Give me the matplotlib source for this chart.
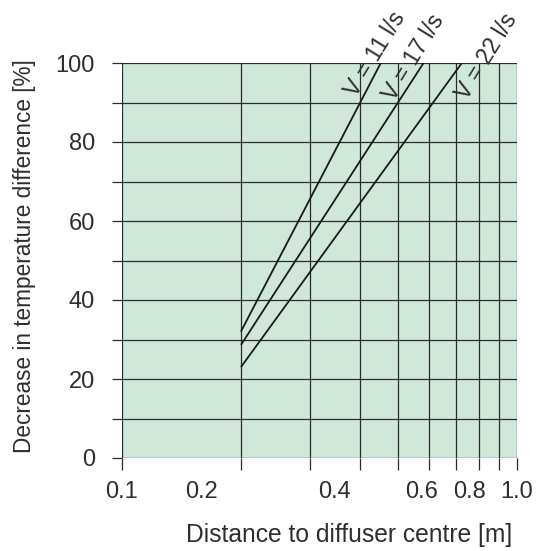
import matplotlib
matplotlib.use("Agg")
import matplotlib.pyplot as plt
import numpy as np

# Throw lines: distance from diffuser centre [m] vs. decrease in temperature difference [%]
flow_labels = ["V = 11 l/s", "V = 17 l/s", "V = 22 l/s"]
line_x = [[0.2, 0.452], [0.2, 0.58], [0.2, 0.725]]
line_y = [[32.0, 100.0], [28.6, 100.0], [23.0, 100.0]]

# Axis ticks and labels
x_grid = [0.1, 0.2, 0.3, 0.4, 0.5, 0.6, 0.7, 0.8, 0.9, 1.0]
x_tick_labels = ["0.1", "0.2", "0.4", "0.6", "0.8", "1.0"]
x_tick_label_pos = [0.1, 0.1594, 0.346, 0.5746, 0.760, 1.0]
y_major = [0, 20, 40, 60, 80, 100]
y_grid = [0, 10, 20, 30, 40, 50, 60, 70, 80, 90, 100]

# Anchor points for the rotated flow labels (data coords)
label_anchor = [(0.3913, 91.1), (0.4884, 90.1), (0.747, 90.4)]

plt.rcParams["font.family"] = ["Liberation Sans", "DejaVu Sans"]
text_color = "#2e2e2e"
grid_color = "#2b2b2b"

fig = plt.figure(figsize=(5.41, 5.51), dpi=100)
ax = fig.add_axes([122 / 541, 1 - 458 / 551, 395 / 541, 395 / 551])
ax.set_facecolor("#cfe8da")
ax.set_xscale("log")
ax.set_xlim(0.1, 1.0)
ax.set_ylim(0, 100)

for xv in x_grid:
    ax.axvline(xv, color=grid_color, lw=0.9, zorder=1)
for yv in y_grid:
    ax.axhline(yv, color=grid_color, lw=0.9, zorder=1)

for xs, ys in zip(line_x, line_y):
    ax.plot(xs, ys, color="#1a1a1a", lw=1.3, zorder=3, solid_capstyle="butt")

for (lx, ly), txt in zip(label_anchor, flow_labels):
    ax.text(lx, ly, txt, rotation=58.5, rotation_mode="anchor", ha="left",
            va="baseline", fontsize=16.7, color=text_color, clip_on=False, zorder=4)

for s in ax.spines.values():
    s.set_visible(False)

# x ticks: marks on every grid line, labels placed separately
ax.set_xticks(x_grid)
ax.set_xticks([], minor=True)
ax.set_xticklabels([])
ax.tick_params(axis="x", which="major", direction="out", length=8.5, width=0.9,
               color=grid_color)
trans = ax.get_xaxis_transform()
for xp, lab in zip(x_tick_label_pos, x_tick_labels):
    ax.text(xp, -0.087, lab, transform=trans, ha="center", va="center",
            fontsize=17, color=text_color)

ax.set_yticks(y_grid)
ax.set_yticklabels([str(v) if v in y_major else "" for v in y_grid])
ax.tick_params(axis="y", which="major", direction="out", length=7, width=0.9,
               color=grid_color, pad=12.5, labelsize=17, labelcolor=text_color)

ax.set_xlabel("Distance to diffuser centre [m]", fontsize=17.7, color=text_color)
ax.xaxis.set_label_coords(0.575, -0.195)
ax.set_ylabel("Decrease in temperature difference [%]", fontsize=16.3, color=text_color)
ax.yaxis.set_label_coords(-0.2456, 0.511)
ax.xaxis.label.set_va("center")
ax.yaxis.label.set_va("center")

fig.savefig("out.png", dpi=100)
